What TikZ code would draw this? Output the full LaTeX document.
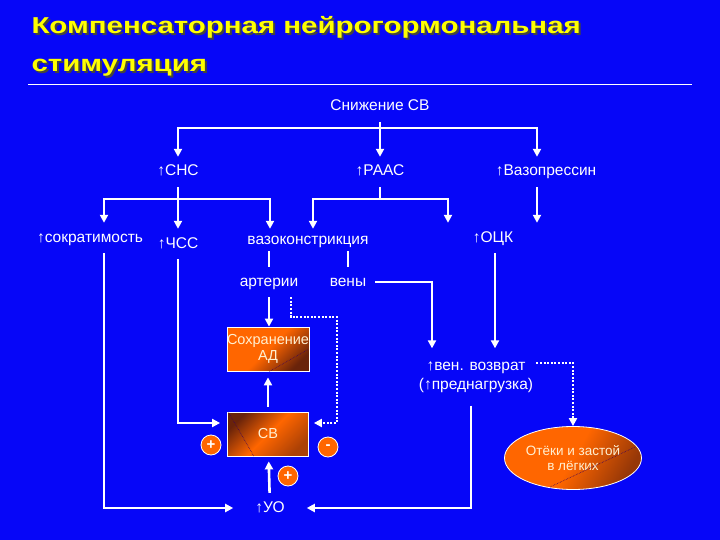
\documentclass[tikz,border=0pt]{standalone}
\usepackage{fontspec}
\setmainfont{Liberation Sans}
\newfontfamily\titlefont[FakeStretch=1.28]{Liberation Sans}
\usetikzlibrary{arrows.meta, positioning, shapes.geometric}
\definecolor{slideblue}{RGB}{6,6,248}
\definecolor{titleyellow}{RGB}{255,255,0}
\definecolor{titleshade}{RGB}{70,70,60}
\definecolor{boxorange}{RGB}{255,102,0}
\definecolor{boxdark}{RGB}{105,35,10}
\definecolor{boxtext}{RGB}{255,240,210}
\definecolor{seamcol}{RGB}{60,0,90}

\begin{document}
\begin{tikzpicture}[x=1pt, y=-1pt,
  headline/.style={anchor=base west, font=\titlefont\bfseries\fontsize{23}{27}\selectfont},
  lbl/.style={text=white, font=\fontsize{15.5}{18}\selectfont, text height=11pt, text depth=3pt, inner xsep=3pt, inner ysep=8pt},
  wire/.style={white, line width=2.6pt},
  arr/.style={wire, -{Triangle[length=8pt, width=8pt]}},
  dotarr/.style={arr, dash pattern=on 2pt off 1.6pt},
  box/.style={draw=white, line width=0.8pt, minimum width=81pt, minimum height=44pt, inner sep=0pt, text=boxtext, align=center, font=\fontsize{14.5}{16}\selectfont},
  sign/.style={circle, draw=white, line width=0.8pt, fill=boxorange, minimum size=20pt, inner sep=0pt, text=white, font=\bfseries\fontsize{15}{15}\selectfont},
  seam/.style={seamcol, densely dotted, line width=0.6pt}]

  \fill[slideblue] (0,0) rectangle (720,540);

  % title
  \node[headline, text=titleshade] (shadeA) at (30,36) {Компенсаторная нейрогормональная};
  \node[headline, text=titleshade] (shadeB) at (30,74) {стимуляция};
  \node[headline, text=titleyellow] (titleA) at (28,34) {Компенсаторная нейрогормональная};
  \node[headline, text=titleyellow] (titleB) at (28,72) {стимуляция};
  \draw[white, line width=1pt] (28,85) -- (692,85);

  % labels
  \node[lbl] (drop) at (380,107) {Снижение СВ};
  \node[lbl] (sns) at (178,172) {↑СНС};
  \node[lbl] (raas) at (380,172) {↑РААС};
  \node[lbl] (vaso) at (546,172) {↑Вазопрессин};
  \node[lbl] (contr) at (90,238) {↑сократимость};
  \node[lbl] (hr) at (178,244) {↑ЧСС};
  \node[lbl, inner ysep=4pt] (vc) at (308,240) {вазоконстрикция};
  \node[lbl] (bcv) at (493,238) {↑ОЦК};
  \node[lbl] (art) at (269,282) {артерии};
  \node[lbl] (veins) at (348,282) {вены};
  \node[text=white, align=center, font=\fontsize{15.5}{19}\selectfont, inner xsep=3pt, inner ysep=13pt] (vr) at (476,377) {↑вен. возврат\\(↑преднагрузка)};
  \node[lbl, inner xsep=22pt] (sv) at (270,508) {↑УО};

  % boxes
  \node[box, top color=boxorange, bottom color=boxdark, middle color=boxorange, shading angle=45] (bp) at (268,349) {Сохранение\\АД};
  \node[box, top color=boxdark, bottom color=boxdark!55!boxorange, middle color=boxorange, shading angle=45] (co) at (268,434) {СВ};
  \node[ellipse, draw=white, line width=0.8pt, minimum width=137pt, minimum height=63pt, inner sep=0pt,
        top color=boxorange, bottom color=boxdark!70!boxorange, middle color=boxorange, shading angle=60,
        text=boxtext, align=center, font=\fontsize{13.5}{15}\selectfont] (edema) at (573,458) {Отёки и застой\\в лёгких};
  \draw[seam] ([xshift=1.5pt]bp.south) -- ([xshift=-1.5pt, yshift=-23pt]bp.north east);
  \draw[seam] ([xshift=1.5pt, yshift=-1pt]co.north west) -- ([xshift=-14pt]co.south);
  \draw[seam] ([xshift=-23pt, yshift=-29pt]edema.center) -- ([xshift=62pt, yshift=11pt]edema.center);

  \node[sign] (plusL) at (211,445) {+};
  \node[sign] (minus) at (328,447) {-};
  \node[sign] (plusB) at (288,476) {+};

  % top level
  \coordinate (busA) at (380,128);
  \draw[wire] (drop) -- (busA);
  \draw[arr] (busA) -| (sns);
  \draw[arr] (busA) -- (raas);
  \draw[arr] (busA) -| ([xshift=-9pt]vaso.north);

  % СНС
  \coordinate (busB) at (178,199);
  \draw[wire] (sns) -- (busB);
  \draw[arr] (busB) -| ([xshift=14pt]contr.north);
  \draw[arr] (busB) -- (hr);
  \draw[arr] (busB) -| ([xshift=-38pt]vc.north);

  % РААС
  \coordinate (busC) at (380,199);
  \draw[wire] (raas) -- (busC);
  \draw[arr] (busC) -| ([xshift=5pt]vc.north);
  \draw[arr] (busC) -| ([xshift=-45pt]bcv.north);
  \draw[arr] ([xshift=-9pt]vaso.south) -- ([xshift=44pt]bcv.north);

  % vessels
  \draw[wire] ([xshift=-39pt]vc.south) -- (art);
  \draw[wire] ([xshift=40pt]vc.south) -- (veins);
  \draw[arr] (art) -- (art |- bp.north);
  \coordinate (dotA) at (337,317);
  \draw[dotarr, shorten >=5pt] ([xshift=22pt]art.south) |- (dotA) |- ([yshift=11pt]co.east);
  \draw[arr] ([xshift=6pt]veins.east) -| ([xshift=-44pt]vr.north);
  \draw[arr] ([xshift=2pt]bcv.south) -- ([xshift=2pt]bcv.south |- vr.north);
  \draw[dotarr] ([yshift=14pt]vr.east) -| (edema.north);

  % output loop
  \draw[arr] ([xshift=14pt]contr.south) |- (sv.west);
  \draw[arr] ([xshift=-5pt]vr.south) |- (sv.east);
  \draw[arr, shorten >=7pt] (hr.south) |- ([yshift=11pt]co.west);
  \draw[arr, shorten <=5pt, shorten >=6pt] (co.north) -- (bp.south);
  \draw[arr, shorten >=5pt] (sv) -- (co);
\end{tikzpicture}
\end{document}
